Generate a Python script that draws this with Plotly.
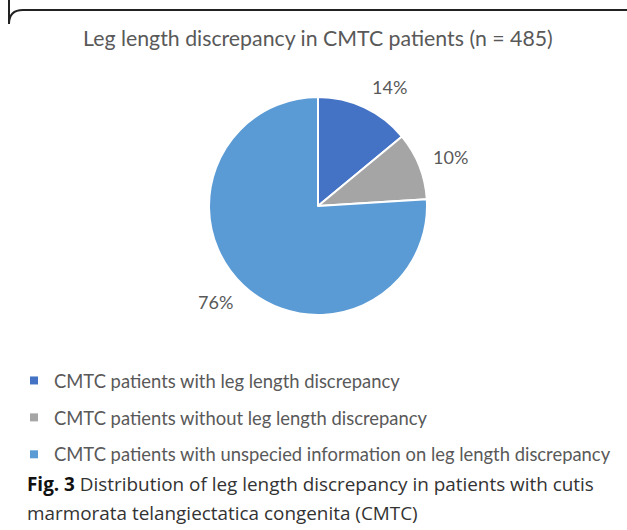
import math
import plotly.graph_objects as go

W, H = 627, 530

title_text = "Leg length discrepancy in CMTC patients (n = 485)"
labels = [
    "CMTC patients with leg length discrepancy",
    "CMTC patients without leg length discrepancy",
    "CMTC patients with unspecied information on leg length discrepancy",
]
values = [14, 10, 76]
colors = ["#4472C4", "#A5A5A5", "#5B9BD5"]
caption_bold = "Fig. 3"
caption_line1 = "Distribution of leg length discrepancy in patients with cutis"
caption_line2 = "marmorata telangiectatica congenita (CMTC)"

# pie geometry in pixels
cx, cy, R = 318, 206, 109
label_gap = 12
label_half_h = 11

fig = go.Figure()
fig.add_trace(go.Pie(
    labels=labels, values=values, sort=False, direction="clockwise", rotation=0,
    marker=dict(colors=colors, line=dict(color="white", width=2)),
    textinfo="none", hoverinfo="label+percent", showlegend=False,
    domain=dict(x=[(cx - R) / W, (cx + R) / W], y=[1 - (cy + R) / H, 1 - (cy - R) / H]),
))

# legend entries (one per category)
for i, (lab, col) in enumerate(zip(labels, colors)):
    fig.add_trace(go.Scatter(
        x=[None], y=[None], mode="markers", name=lab, legendgroup=f"g{i}",
        marker=dict(symbol="square", size=8, color=col), showlegend=True,
        hoverinfo="skip",
    ))

# percentage labels placed just outside each slice at its mid-angle
total = sum(values)
cum = 0
for v in values:
    mid = (cum + v / 2) / total * 2 * math.pi
    cum += v
    s, c = math.sin(mid), math.cos(mid)
    lx = cx + (R + label_gap) * s
    ly = cy - (R + label_gap) * c
    fig.add_annotation(x=lx / W, y=1 - ly / H, xref="paper", yref="paper",
                       xanchor="left" if s >= 0 else "right",
                       yanchor="middle", yshift=c * label_half_h,
                       text=f"{round(v / total * 100)}%", showarrow=False,
                       font=dict(family="Lato", size=18, color="#595959"))

fig.add_annotation(x=cx / W, y=1 - 38 / H, xref="paper", yref="paper",
                   xanchor="center", yanchor="middle",
                   text=title_text, showarrow=False,
                   font=dict(family="Lato", size=21.3, color="#595959"))

fig.add_annotation(x=25 / W, y=1 - 484 / H, xref="paper", yref="paper",
                   xanchor="left", yanchor="middle", align="left",
                   text=f"<b><span style='color:#111'>{caption_bold}</span></b> {caption_line1}",
                   showarrow=False,
                   font=dict(family="Open Sans", size=18.9, color="#333333"))
fig.add_annotation(x=25 / W, y=1 - 513 / H, xref="paper", yref="paper",
                   xanchor="left", yanchor="middle", align="left",
                   text=caption_line2, showarrow=False,
                   font=dict(family="Open Sans", size=18.9, color="#333333"))

# border with rounded top-left corner
x0, y0, r = 9, 10, 14
fig.add_shape(type="path", xref="paper", yref="paper",
              path=(f"M {x0 / W},{1} L {x0 / W},{1 - (y0 + r) / H} "
                    f"Q {x0 / W},{1 - y0 / H} {(x0 + r) / W},{1 - y0 / H} "
                    f"L {1},{1 - y0 / H}"),
              line=dict(color="#222222", width=2))

fig.update_layout(
    width=W, height=H, margin=dict(l=0, r=0, t=0, b=0),
    paper_bgcolor="white", plot_bgcolor="white",
    showlegend=True,
    xaxis=dict(visible=False), yaxis=dict(visible=False),
    legend=dict(x=14 / W, y=1 - 362 / H, xanchor="left", yanchor="top",
                font=dict(family="Lato", size=18.4, color="#595959"),
                traceorder="grouped", tracegroupgap=10, itemsizing="trace",
                bgcolor="rgba(0,0,0,0)"),
)

fig.write_html("out.html", config={"displayModeBar": False},
               post_script="document.body.style.margin='0';")
